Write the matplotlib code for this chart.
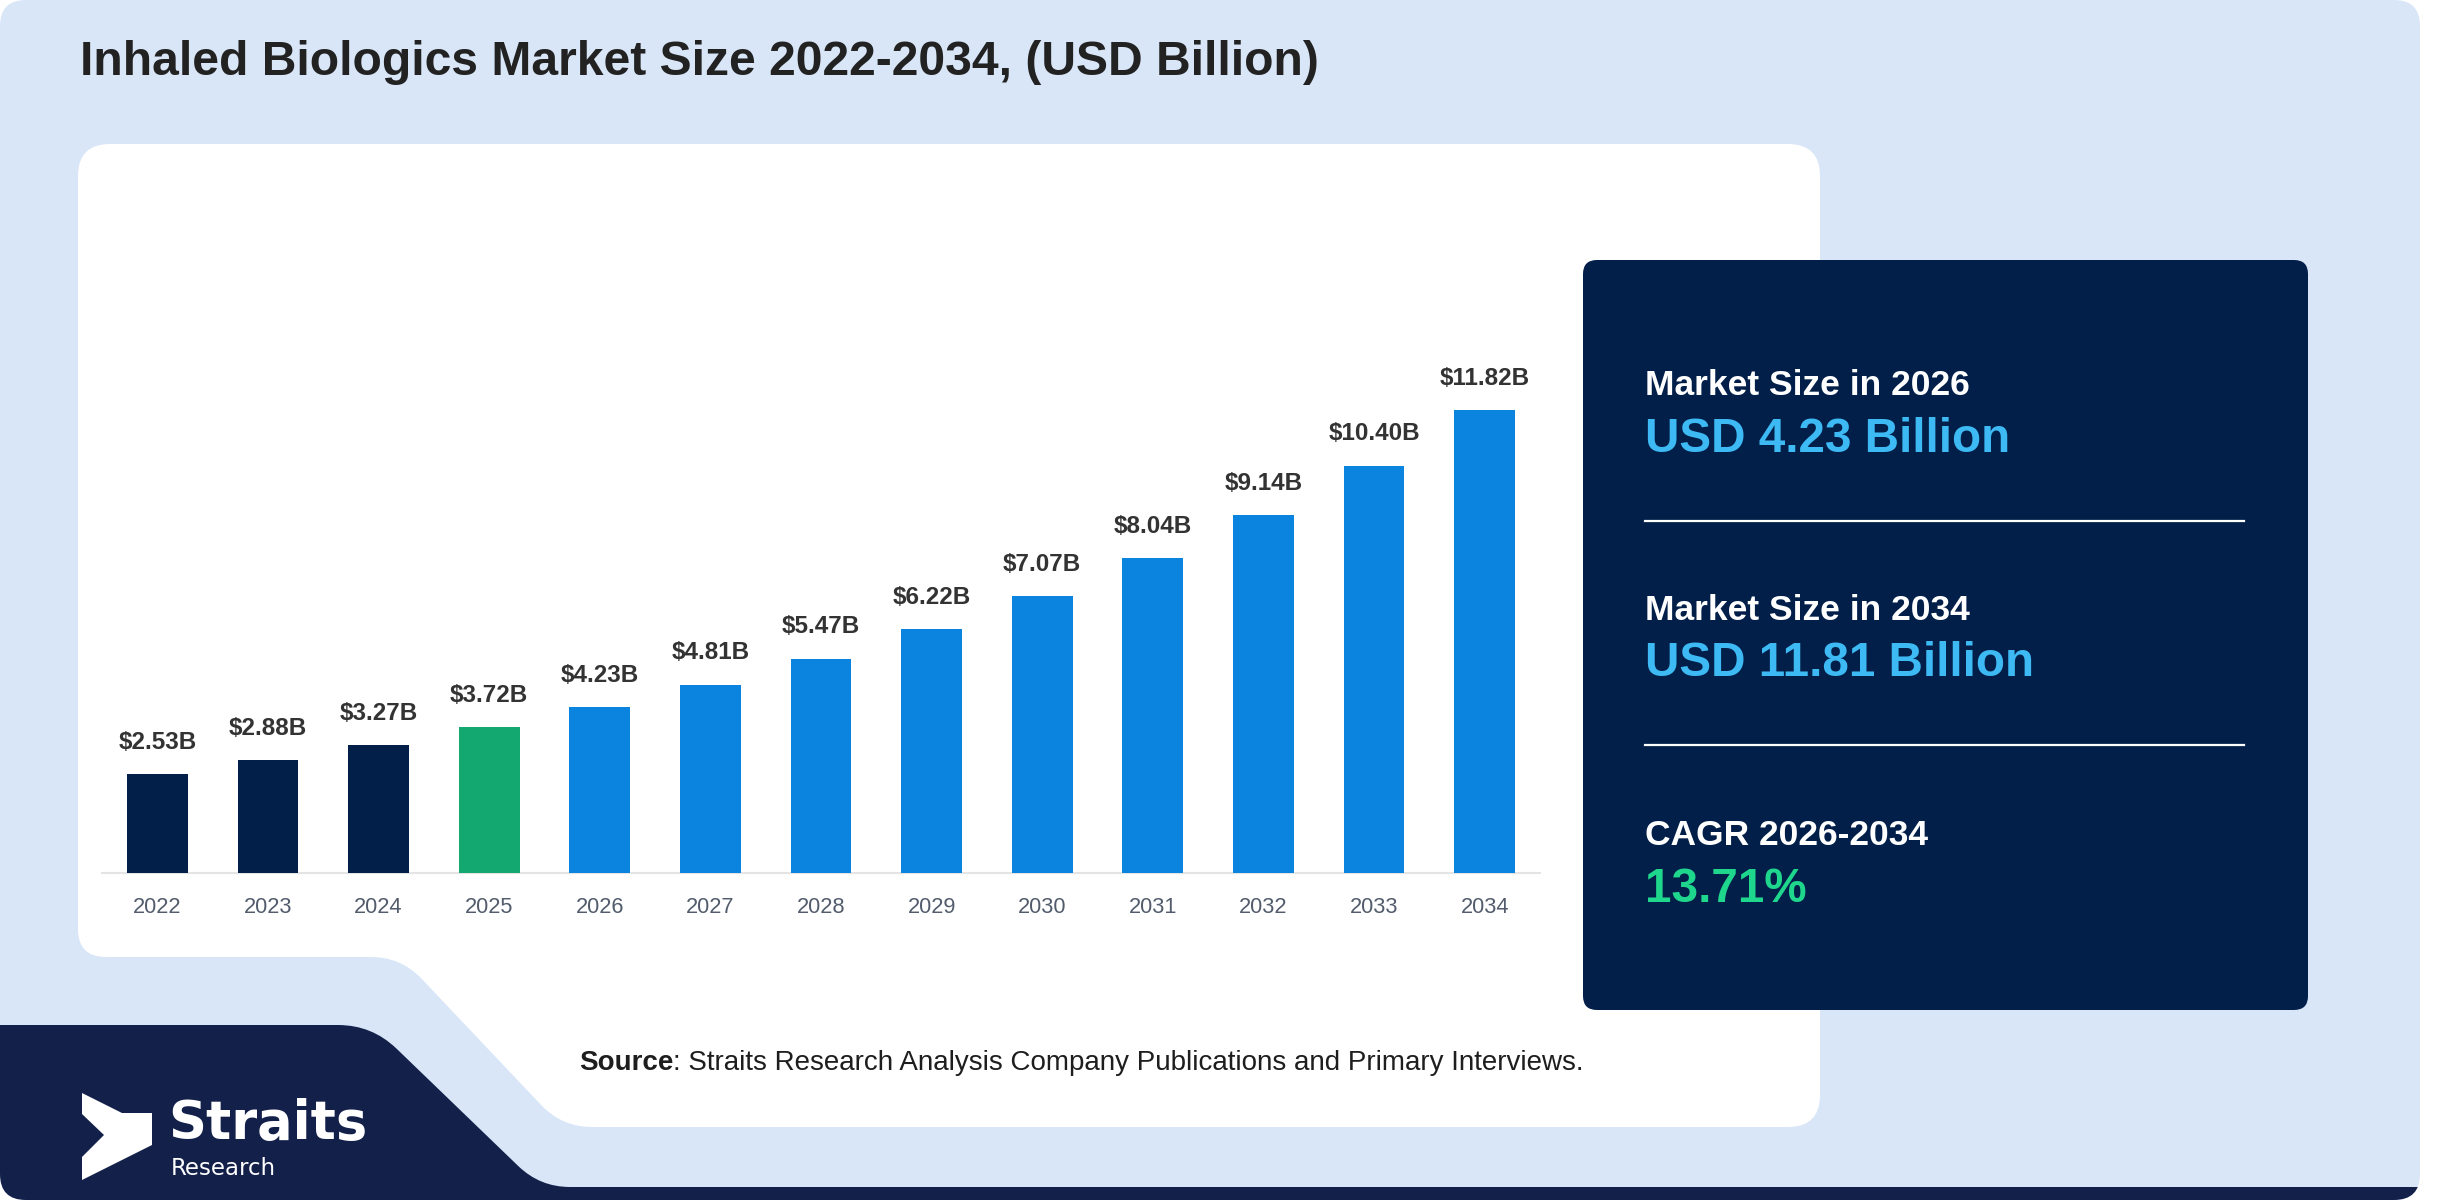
import numpy as np
import matplotlib
matplotlib.use("Agg")
import matplotlib.pyplot as plt
from matplotlib.patches import FancyBboxPatch, PathPatch
from matplotlib.path import Path

plt.rcParams['font.family'] = ['Liberation Sans', 'DejaVu Sans']

# ── Data ──────────────────────────────────────────────────────────────────────
YEARS = ['2022', '2023', '2024', '2025', '2026', '2027', '2028',
         '2029', '2030', '2031', '2032', '2033', '2034']
VALUES = [2.53, 2.88, 3.27, 3.72, 4.23, 4.81, 5.47,
          6.22, 7.07, 8.04, 9.14, 10.40, 11.82]
BASE_YEAR = '2025'

STAT_HEADS = ['Market Size in 2026', 'Market Size in 2034', 'CAGR 2026-2034']
STAT_VALUES = ['USD 4.23 Billion', 'USD 11.81 Billion', '13.71%']

TITLE = 'Inhaled Biologics Market Size 2022-2034, (USD Billion)'
SOURCE_HEAD = 'Source'
SOURCE_TEXT = ': Straits Research Analysis Company Publications and Primary Interviews.'

# ── Colours ───────────────────────────────────────────────────────────────────
LIGHT_BG = '#d9e6f8'
BOTTOM_NAVY = '#13204a'
PANEL_NAVY = '#021f4a'
HIST_COL = '#021f4a'
BASE_COL = '#13a870'
FCST_COL = '#0b84e0'
STAT_COLS = ['#3dbaf4', '#3dbaf4', '#1fd68d']

W, H = 2452, 1200


def rounded_poly(verts, radius):
    """Closed path through verts with every corner rounded."""
    verts = [np.array(v, float) for v in verts]
    n = len(verts)
    pts, codes = [], []
    for i, v in enumerate(verts):
        p, q = verts[i - 1], verts[(i + 1) % n]
        r = radius[i] if isinstance(radius, (list, tuple)) else radius
        a = v + r * (p - v) / np.linalg.norm(p - v)
        b = v + r * (q - v) / np.linalg.norm(q - v)
        pts += [a, v, b]
        codes += [Path.MOVETO if i == 0 else Path.LINETO, Path.CURVE3, Path.CURVE3]
    pts.append(pts[0])
    codes.append(Path.CLOSEPOLY)
    return Path(pts, codes)


fig = plt.figure(figsize=(W / 100, H / 100), dpi=100)
fig.patch.set_facecolor('white')

bg = fig.add_axes([0, 0, 1, 1])
bg.set_xlim(0, W)
bg.set_ylim(H, 0)
bg.axis('off')

# background card
light = FancyBboxPatch((0, 0), 2420, 1200, boxstyle='round,pad=0,rounding_size=26',
                       fc=LIGHT_BG, ec='none', zorder=0)
bg.add_patch(light)

# navy band with the logo, lower left
dark = PathPatch(rounded_poly([(-40, 1025), (372, 1025), (540, 1187),
                               (2460, 1187), (2460, 1240), (-40, 1240)],
                              [1, 34, 30, 1, 1, 1]),
                 fc=BOTTOM_NAVY, ec='none', zorder=1)
bg.add_patch(dark)
dark.set_clip_path(light)

# white chart card
card = PathPatch(rounded_poly([(78, 144), (1820, 144), (1820, 1127),
                               (562, 1127), (401, 957), (78, 957)],
                              [32, 32, 32, 30, 30, 28]),
                 fc='white', ec='none', zorder=2)
bg.add_patch(card)

# stats panel
panel = FancyBboxPatch((1583, 260), 725, 750, boxstyle='round,pad=0,rounding_size=14',
                       fc=PANEL_NAVY, ec='none', zorder=3)
bg.add_patch(panel)

# title
bg.text(80, 75, TITLE, fontsize=34.6, fontweight='bold', color='#222222',
        ha='left', va='baseline', zorder=5)

# stats text
head_y = [395, 620, 845]
val_y = [452, 676, 902]
for head, val, col, hy, vy in zip(STAT_HEADS, STAT_VALUES, STAT_COLS, head_y, val_y):
    bg.text(1645, hy, head, fontsize=25.5, fontweight='bold', color='white',
            ha='left', va='baseline', zorder=5)
    bg.text(1645, vy, val, fontsize=34.3, fontweight='bold', color=col,
            ha='left', va='baseline', zorder=5)
for y in [521, 745]:
    bg.plot([1645, 2244], [y, y], color='white', lw=1.6, zorder=5)

# source line
src = bg.text(579, 1070, SOURCE_HEAD, fontsize=20, fontweight='bold', color='#1e1e1e',
              ha='left', va='baseline', zorder=5)
bg.annotate(SOURCE_TEXT, xy=(1, 0), xycoords=src, fontsize=20, color='#1e1e1e',
            ha='left', va='bottom', zorder=5)

# logo
logo = PathPatch(Path([(82, 1093), (122, 1113), (152, 1113), (152, 1145),
                       (82, 1180), (82, 1157), (104, 1135), (82, 1114), (82, 1093)]),
                 fc='white', ec='none', zorder=5)
bg.add_patch(logo)
bg.text(168, 1139, 'Straits', fontsize=38, fontweight='bold', color='white',
        family='DejaVu Sans', ha='left', va='baseline', zorder=5)
bg.text(171, 1175, 'Research', fontsize=16.5, color='white',
        family='DejaVu Sans', ha='left', va='baseline', zorder=5)

# ── Bar chart ─────────────────────────────────────────────────────────────────
ax_l, ax_r, ax_b = 102, 1540, 873
px_per_unit = 39.15
ymax = 16
ax = fig.add_axes([ax_l / W, (H - ax_b) / H, (ax_r - ax_l) / W, ymax * px_per_unit / H])
ax.set_facecolor('none')
ax.set_zorder(6)

x = np.arange(len(YEARS))
colors = [BASE_COL if y == BASE_YEAR else (HIST_COL if y < BASE_YEAR else FCST_COL)
          for y in YEARS]
ax.bar(x, VALUES, width=0.55, color=colors, zorder=3)

for xi, v in zip(x, VALUES):
    ax.annotate(f'\\${v:.2f}B', (xi, v), xytext=(0, 23), textcoords='offset points',
                ha='center', va='center', fontsize=17.5, fontweight='bold', color='#333333')

ax.set_xlim(-0.5, len(YEARS) - 0.5)
ax.set_ylim(0, ymax)
ax.set_xticks(x)
ax.set_xticklabels(YEARS, fontsize=15.7, color='#525c6c')
ax.tick_params(axis='x', length=0, pad=17)
ax.set_yticks([])
for s in ['top', 'right', 'left']:
    ax.spines[s].set_visible(False)
ax.spines['bottom'].set_color('#e4e4e4')
ax.spines['bottom'].set_linewidth(1.5)

fig.savefig('out.png', dpi=100)
